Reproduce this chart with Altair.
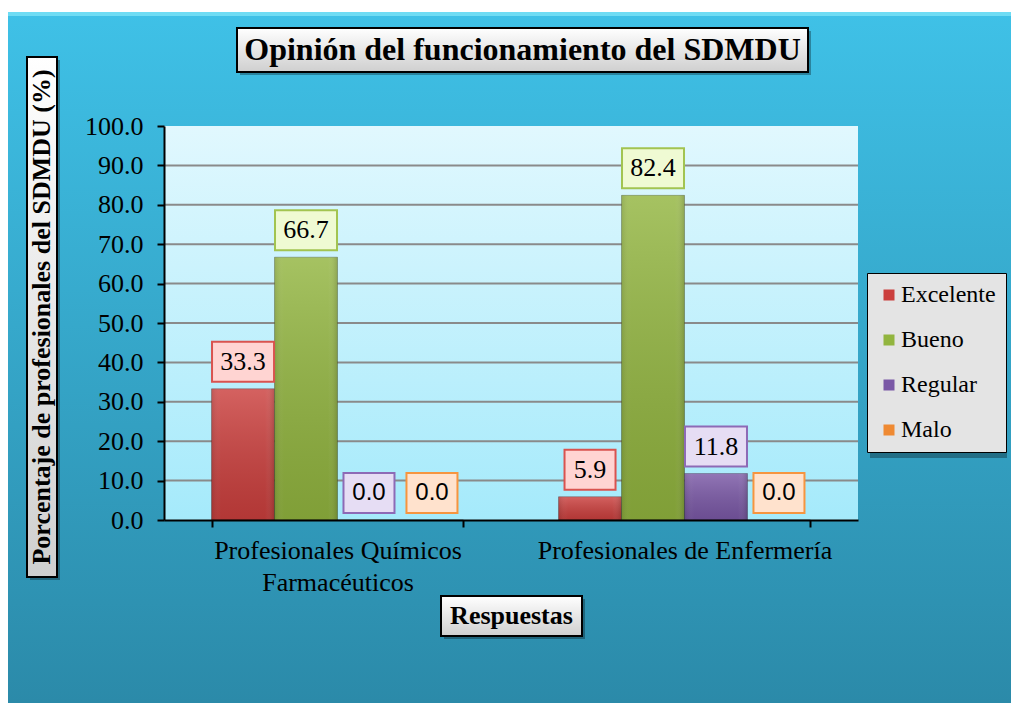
import altair as alt
import pandas as pd

# ---------------- data ----------------
categories = ["Profesionales Químicos Farmacéuticos", "Profesionales de Enfermería"]
category_lines = {
    "Profesionales Químicos Farmacéuticos": ["Profesionales Químicos", "Farmacéuticos"],
    "Profesionales de Enfermería": ["Profesionales de Enfermería"],
}
series = ["Excelente", "Bueno", "Regular", "Malo"]
excelente = [33.3, 5.9]
bueno = [66.7, 82.4]
regular = [0.0, 11.8]
malo = [0.0, 0.0]
y_ticks = [0, 10, 20, 30, 40, 50, 60, 70, 80, 90, 100]
grid_values = [10, 20, 30, 40, 50, 60, 70, 80, 90]

chart_title = "Opinión del funcionamiento del SDMDU"
y_title = "Porcentaje de profesionales del SDMDU (%)"
x_title = "Respuestas"

# ---------------- styles ----------------
bar_colors = ["#cb3f3d", "#92b53f", "#7a58a6", "#ef8a33"]
box_fills = ["#ffd4d2", "#effad3", "#e6ddf4", "#ffe2cd"]
box_strokes = ["#d9534f", "#a2c451", "#8d6ab6", "#f6953f"]
SERIF = "Liberation Serif"
SANS = "Liberation Sans"
W, H = 694, 394

rows = []
for s, vals in zip(series, [excelente, bueno, regular, malo]):
    for c, v in zip(categories, vals):
        rows.append({"categoria": c, "respuesta": s, "valor": v})
df = pd.DataFrame(rows)
grid_df = pd.DataFrame({"g": grid_values})
one = pd.DataFrame({"k": [0]})

# label expression for multi-line category labels
expr_parts = []
for k, lines in category_lines.items():
    arr = "[" + ", ".join("'" + l + "'" for l in lines) + "]"
    expr_parts.append(f"datum.value == '{k}' ? {arr} : ")
label_expr = "".join(expr_parts) + "datum.label"

x_scale = alt.Scale(domain=categories, paddingInner=0.274, paddingOuter=0.137)
xoff_scale = alt.Scale(domain=series, paddingInner=0, paddingOuter=0)
y_scale = alt.Scale(domain=[0, 100], nice=False)

x_axis = alt.Axis(title=None, labelFont=SERIF, labelFontSize=26, labelColor="black",
                  labelExpr=label_expr, labelLineHeight=32, labelPadding=10,
                  labelAngle=0, labelLimit=0, labelBaseline="top",
                  tickBand="extent", tickSize=7, tickColor="black", tickWidth=2,
                  domainColor="black", domainWidth=2, grid=False, zindex=1)
y_axis = alt.Axis(title=None, values=y_ticks, format=".1f", labelFont=SERIF,
                  labelFontSize=26, labelColor="black", labelPadding=14,
                  tickSize=7, tickColor="black", tickWidth=2,
                  domainColor="black", domainWidth=2, grid=False, zindex=1)

X = alt.X("categoria:N", scale=x_scale, sort=categories, axis=x_axis)
XO = alt.XOffset("respuesta:N", scale=xoff_scale, sort=series)
Y = alt.Y("valor:Q", scale=y_scale, axis=y_axis)


def grad(c1, c2, vertical=True):
    return alt.Gradient(gradient="linear", x1=0, x2=0 if vertical else 1,
                        y1=0, y2=1 if vertical else 0,
                        stops=[alt.GradientStop(color=c1, offset=0),
                               alt.GradientStop(color=c2, offset=1)])


def rect(x1, x2, y1, y2, fill, stroke=None, sw=0, opacity=1):
    kw = dict(fill=fill, opacity=opacity)
    if stroke:
        kw.update(stroke=stroke, strokeWidth=sw)
    return alt.Chart(one).mark_rect(**kw).encode(
        x=alt.value(x1), x2=alt.value(x2), y=alt.value(y1), y2=alt.value(y2))


def label(text, x, y, size, angle=0):
    return alt.Chart(pd.DataFrame({"t": [text]})).mark_text(
        font=SERIF, fontSize=size, fontWeight="bold", color="black",
        align="center", baseline="middle", angle=angle
    ).encode(text="t:N", x=alt.value(x), y=alt.value(y))


# backgrounds
outer_bg = rect(-156, 847, -114, 577, grad("#3fc1e7", "#2b8aa9"))
outer_edge = rect(-156, 847, -114, -110, "#6fdcf4")
plot_bg = rect(0, W, 0, H, grad("#e1f8fe", "#a5eafb"))

grid = alt.Chart(grid_df).mark_rule(color="#8a8a8a", strokeWidth=2).encode(
    y=alt.Y("g:Q", scale=y_scale, axis=y_axis), x=alt.value(0), x2=alt.value(W))

bars = alt.Chart(df).mark_bar(stroke="black", strokeOpacity=0.25, strokeWidth=1).encode(
    x=X, xOffset=XO, y=Y,
    color=alt.Color("respuesta:N", sort=series,
                    scale=alt.Scale(domain=series, range=bar_colors),
                    legend=alt.Legend(orient="none", legendX=703, legendY=147,
                                      title=None, labelFont=SERIF, labelFontSize=24,
                                      labelColor="black", labelOffset=0,
                                      symbolType="square", symbolSize=121,
                                      symbolStrokeWidth=0,
                                      padding=10, rowPadding=21,
                                      fillColor="#e4e4e4", strokeColor="black")),
)

# bevel-like shading overlay on bars
shade = alt.Chart(df).mark_bar(
    fill=grad("rgba(255,255,255,0.18)", "rgba(0,0,0,0.12)")
).encode(x=X, xOffset=XO, y=Y)
shade_h = alt.Chart(df).mark_bar(
    fill=alt.Gradient(gradient="linear", x1=0, x2=1, y1=0, y2=0,
                      stops=[alt.GradientStop(color="rgba(0,0,0,0.10)", offset=0),
                             alt.GradientStop(color="rgba(255,255,255,0.0)", offset=0.15),
                             alt.GradientStop(color="rgba(255,255,255,0.0)", offset=0.85),
                             alt.GradientStop(color="rgba(0,0,0,0.15)", offset=1)])
).encode(x=X, xOffset=XO, y=Y)

label_base = alt.Chart(df).transform_calculate(
    txt="format(datum.valor, '.1f')",
    bw="length(format(datum.valor, '.1f')) > 3 ? 62 : 51",
)

boxes = label_base.mark_bar(yOffset=-7, y2Offset=-47, strokeWidth=2).encode(
    x=X, xOffset=XO, y=Y, y2="valor:Q",
    size=alt.Size("bw:Q", scale=None, legend=None),
    fill=alt.Fill("respuesta:N", scale=alt.Scale(domain=series, range=box_fills), legend=None),
    stroke=alt.Stroke("respuesta:N", scale=alt.Scale(domain=series, range=box_strokes), legend=None),
)

texts_serif = label_base.transform_filter("datum.valor > 0").mark_text(
    font=SERIF, fontSize=26, color="black", baseline="middle", dy=-27
).encode(x=X, xOffset=XO, y=Y, text="txt:N")

texts_sans = label_base.transform_filter("datum.valor == 0").mark_text(
    font=SANS, fontSize=24, color="black", baseline="middle", dy=-27
).encode(x=X, xOffset=XO, y=Y, text="txt:N")

# decorative boxes with titles
title_shadow = rect(76, 647, -95, -51, "#000000", opacity=0.3)
title_box = rect(73, 644, -98, -54, grad("#ffffff", "#cfcfcf"), "black", 2)
title_text = label(chart_title, 358.5, -76, 32)

ytitle_shadow = rect(-134, -104, -66, 454, "#000000", opacity=0.3)
ytitle_box = rect(-137, -107, -69, 451, grad("#ffffff", "#cfcfcf"), "black", 2)
ytitle_text = label(y_title, -122, 191, 26, angle=270)

xtitle_shadow = rect(280, 421, 473, 513, "#000000", opacity=0.3)
xtitle_box = rect(277, 418, 470, 510, grad("#ffffff", "#cfcfcf"), "black", 2)
xtitle_text = label(x_title, 347.5, 490, 26)

legend_shadow = rect(706, 843, 150, 332, "#000000", opacity=0.3)

chart = alt.layer(
    outer_bg, outer_edge, plot_bg, grid, bars, shade, shade_h, boxes, texts_serif, texts_sans,
    title_shadow, title_box, title_text,
    ytitle_shadow, ytitle_box, ytitle_text,
    xtitle_shadow, xtitle_box, xtitle_text,
    legend_shadow,
).properties(
    width=W, height=H,
    padding={"left": 156, "top": 118, "right": 153, "bottom": 183},
    autosize=alt.AutoSizeParams(type="none"),
).configure(font=SERIF).configure_view(stroke=None)

chart.save("out.html", embed_options={"renderer": "svg", "actions": False})
